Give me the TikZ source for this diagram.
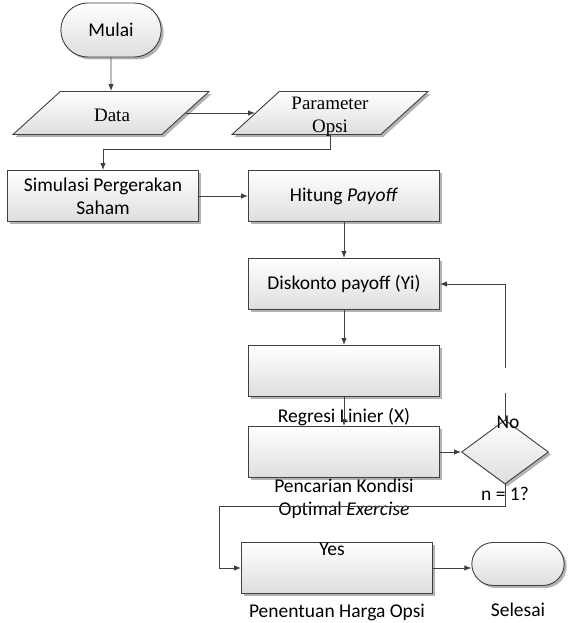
\documentclass[tikz,border=0pt]{standalone}
\usepackage{fontspec}
\setmainfont{Carlito}
\newfontfamily\serifteks{Liberation Serif}
\usetikzlibrary{positioning,arrows.meta,shapes.geometric,shapes.misc,shadows}

\begin{document}
\begin{tikzpicture}[
  x=1pt, y=-1pt,
  font=\fontsize{19.5}{23}\selectfont,
  base/.style={draw=black!75, line width=0.9pt, top color=white, bottom color=black!13,
               drop shadow={shadow xshift=2.5pt, shadow yshift=-2.5pt, opacity=0.6, fill=black!50}},
  proses/.style={base, rectangle, minimum width=191, minimum height=51, align=center, inner sep=2pt},
  terminal/.style={base, rounded rectangle, minimum width=107, minimum height=54},
  dataio/.style={base, trapezium, trapezium left angle=65, trapezium right angle=115,
                 trapezium stretches=true, minimum width=196, minimum height=43},
  keputusan/.style={base, diamond, minimum width=87, minimum height=64, inner sep=0pt},
  teks/.style={inner sep=1pt, align=center},
  serif/.style={teks, font=\fontsize{19}{23}\serifteks},
  flow/.style={draw=black!75, line width=0.9pt, -{Latex[length=7pt,width=5.5pt]}},
  garis/.style={draw=black!75, line width=0.9pt},
]
  \useasboundingbox (0,0) rectangle (569,623);

  % kolom kiri
  \node[terminal] (mulai) at (111,30) {Mulai};
  \node[dataio] (data) at (111,113) {};
  \node[serif] (tdata) at (112,115) {Data};
  \node[dataio] (param) at (330,113) {};
  \node[serif] (tparam) at (330,117) {Parameter\\Opsi};
  \node[proses] (sim) at (103,196) {Simulasi Pergerakan\\Saham};

  % kolom tengah
  \node[proses] (hitung) at (344,196) {Hitung \textit{Payoff}};
  \node[proses] (disk) at (344,284) {Diskonto payoff (Yi)};
  \node[proses] (reg) at (344,371) {};
  \node[teks, below=10pt of reg] (treg) {Regresi Linier (X)};
  \node[proses] (cari) at (344,452) {};
  \node[teks, below=0pt of cari] (tcari) {Pencarian Kondisi\\Optimal \textit{Exercise}};
  \node[keputusan] (cek) at (505,452) {};
  \node[teks] (tno) at ([xshift=3pt,yshift=-3pt]cek.north) {No};
  \node[teks, below=2pt of cek.south] (tcek) {n = 1?};

  % baris bawah
  \node[proses] (harga) at (337,568) {};
  \node[teks, below=0pt of harga.north, xshift=-5pt] (tyes) {Yes};
  \node[teks, below=9pt of harga] (tharga) {Penentuan Harga Opsi};
  \node[terminal, minimum width=99, minimum height=43] (selesai) at (518,564) {};
  \node[teks, below=16pt of selesai] (tselesai) {Selesai};

  \coordinate (pout) at (330,134);
  \coordinate (pbend) at (330,149);
  \coordinate (nolo) at (505,393);
  \coordinate (nohi) at (505,368);
  \coordinate (yesbend) at (219,506);

  \draw[flow] (mulai) -- (data);
  \draw[flow] (data.east) -- (data.east -| param.west);
  \draw[flow] (pout) -- (pbend) -| (sim.north);
  \draw[flow] (sim) -- (hitung);
  \draw[flow] (hitung) -- (disk);
  \draw[flow] (disk) -- (reg);
  \draw[flow] (reg) -- (cari);
  \draw[flow] (cari) -- (cek);
  \draw[garis] (cek.north) -- (nolo);
  \draw[flow] (nohi) |- (disk.east);
  \draw[flow] (cek.south) |- (yesbend) |- (harga.west);
  \draw[flow] (harga.east) -- (harga.east -| selesai.west);
\end{tikzpicture}
\end{document}
